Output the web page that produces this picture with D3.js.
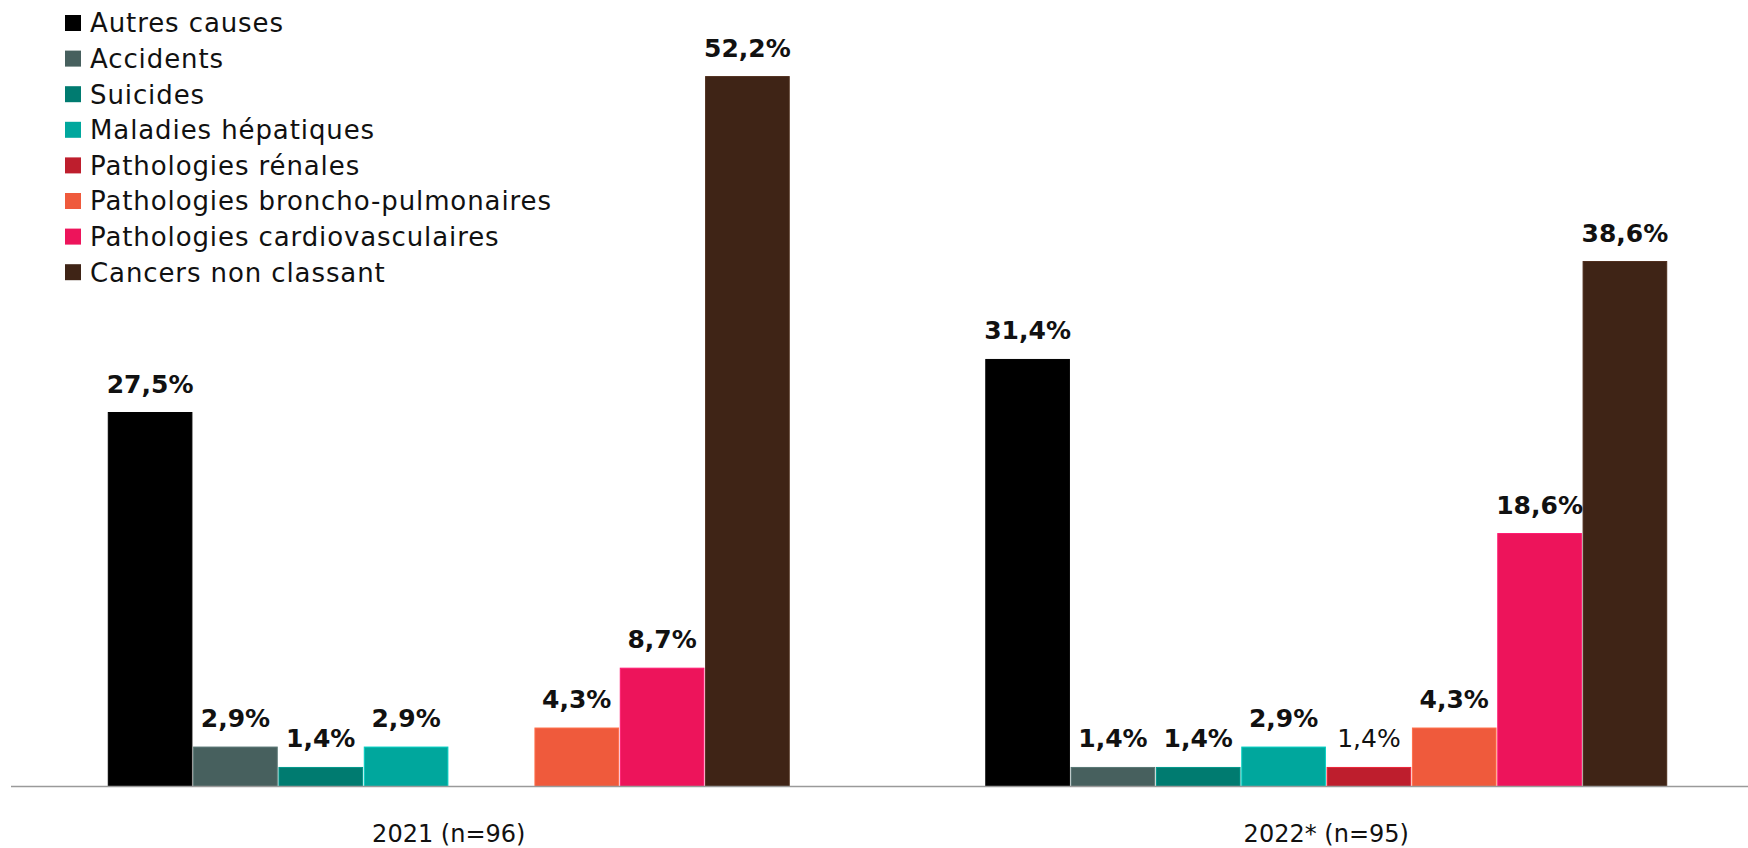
<!DOCTYPE html>
<html lang="fr">
<head>
<meta charset="utf-8">
<script src="https://cdn.jsdelivr.net/npm/d3@7"></script>
<style>
  html, body { margin: 0; padding: 0; background: #fff; }
  svg { display: block; font-family: "DejaVu Sans", "Noto Sans", sans-serif; }
</style>
</head>
<body>
<svg id="chart" width="1748" height="848"></svg>
<script>
// Causes de décès, par année
const years = ["2021 (n=96)", "2022* (n=95)"];
const causes = [
  "Autres causes",
  "Accidents",
  "Suicides",
  "Maladies hépatiques",
  "Pathologies rénales",
  "Pathologies broncho-pulmonaires",
  "Pathologies cardiovasculaires",
  "Cancers non classant"
];
const values2021 = [27.5, 2.9, 1.4, 2.9, null, 4.3, 8.7, 52.2];
const values2022 = [31.4, 1.4, 1.4, 2.9, 1.4, 4.3, 18.6, 38.6];
const colors = ["#000000", "#47605e", "#007b70", "#00a79d", "#be1e2d", "#ef5a3c", "#ed145b", "#3f2416"];

const seriesByYear = [values2021, values2022];

const svg = d3.select("#chart");
const W = 1748;
const baseline = 786.5;

const x0 = d3.scaleBand().domain(years).range([10, 1765]).paddingInner(0.224).paddingOuter(0.112);
const x1 = d3.scaleBand().domain(causes).range([0, x0.bandwidth()]).paddingInner(0.02).paddingOuter(0);
const y = d3.scaleLinear().domain([0, 55]).range([baseline, baseline - 55 * 13.6]);
const color = d3.scaleOrdinal().domain(causes).range(colors);

const fmt = v => d3.format(".1f")(v).replace(".", ",") + "%";

const rows = [];
years.forEach((yr, i) => {
  causes.forEach((c, j) => {
    const v = seriesByYear[i][j];
    if (v !== null) rows.push({ year: yr, cause: c, value: v });
  });
});

const bars = svg.append("g");
bars.selectAll("rect")
  .data(rows)
  .join("rect")
  .attr("x", d => x0(d.year) + x1(d.cause))
  .attr("y", d => y(d.value))
  .attr("width", x1.bandwidth())
  .attr("height", d => y(0) - y(d.value))
  .attr("fill", d => color(d.cause))
  .attr("stroke", d => d3.color(color(d.cause)).brighter(0.6))
  .attr("stroke-width", 1);

// value labels above each bar
svg.append("g").selectAll("text")
  .data(rows)
  .join("text")
  .attr("x", d => x0(d.year) + x1(d.cause) + x1.bandwidth() / 2)
  .attr("y", d => y(d.value) - 20)
  .attr("text-anchor", "middle")
  .attr("font-size", 25)
  .attr("font-weight", d => (d.cause === "Pathologies rénales" ? 400 : 700))
  .attr("fill", "#111")
  .text(d => fmt(d.value));

// baseline axis
const axis = d3.axisBottom(x0).tickSize(0).tickPadding(38);
const gAxis = svg.append("g").attr("transform", `translate(0,${baseline})`).call(axis);
gAxis.select(".domain").remove();
gAxis.append("line")
  .attr("x1", 11).attr("x2", W)
  .attr("y1", 0).attr("y2", 0)
  .attr("stroke", "#9a9a9a").attr("stroke-width", 1.5);
gAxis.selectAll(".tick text")
  .attr("font-size", 24)
  .attr("font-family", "\"DejaVu Sans\", sans-serif")
  .attr("fill", "#111");

// legend
const legend = svg.append("g").attr("transform", "translate(65,0)");
const item = legend.selectAll("g")
  .data(causes)
  .join("g")
  .attr("transform", (d, i) => `translate(0,${23 + i * 35.6})`);
item.append("rect")
  .attr("x", 0).attr("y", -8)
  .attr("width", 16).attr("height", 16)
  .attr("fill", d => color(d));
item.append("text")
  .attr("x", 25).attr("y", 0)
  .attr("dy", "0.36em")
  .attr("font-size", 26)
  .attr("letter-spacing", 0.9)
  .attr("fill", "#111")
  .text(d => d);
</script>
</body>
</html>
